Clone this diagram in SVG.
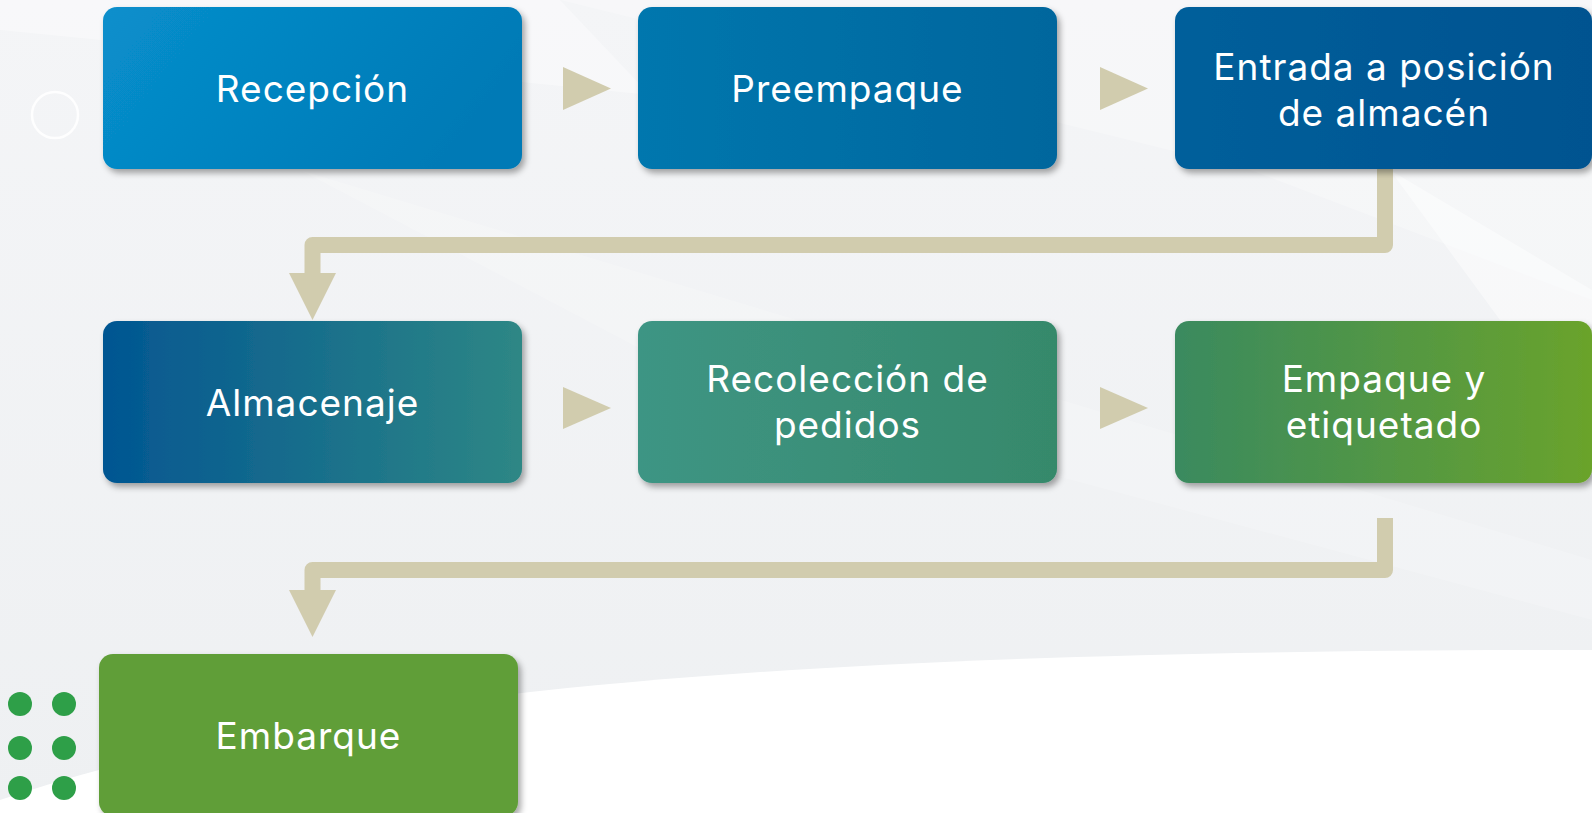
<svg xmlns="http://www.w3.org/2000/svg" width="1592" height="813" viewBox="0 0 1592 813">
  <defs>
    <style>
      .lbl { font-family: Inter, "Open Sans", "DejaVu Sans", sans-serif; font-size: 37px; font-weight: 400; fill: #ffffff; text-anchor: middle; letter-spacing: 1px; }
      .conn { fill: none; stroke: #d1ccae; stroke-width: 16; stroke-linejoin: round; }
      .head { fill: #d1ccae; }
      .dot { fill: #2e9f48; }
    </style>
    <filter id="shadow" x="-10%" y="-10%" width="125%" height="130%">
      <feDropShadow dx="3" dy="4" stdDeviation="3" flood-color="#000000" flood-opacity="0.35"/>
    </filter>
    <linearGradient id="g1" x1="0" y1="0" x2="1" y2="0.3">
      <stop offset="0" stop-color="#088fcc"/>
      <stop offset="1" stop-color="#007ab6"/>
    </linearGradient>
    <linearGradient id="g2" x1="0" y1="0" x2="1" y2="0">
      <stop offset="0" stop-color="#0077ae"/>
      <stop offset="1" stop-color="#00669d"/>
    </linearGradient>
    <linearGradient id="g3" x1="0" y1="0" x2="1" y2="0">
      <stop offset="0" stop-color="#015f9b"/>
      <stop offset="1" stop-color="#005390"/>
    </linearGradient>
    <linearGradient id="g4" x1="0" y1="0" x2="1" y2="0">
      <stop offset="0" stop-color="#025692"/>
      <stop offset="1" stop-color="#2e8785"/>
    </linearGradient>
    <linearGradient id="g5" x1="0" y1="0" x2="1" y2="0">
      <stop offset="0" stop-color="#3e9584"/>
      <stop offset="1" stop-color="#36896b"/>
    </linearGradient>
    <linearGradient id="g6" x1="0" y1="0" x2="1" y2="0">
      <stop offset="0" stop-color="#3a8a5f"/>
      <stop offset="1" stop-color="#6aa32b"/>
    </linearGradient>
    <linearGradient id="bg" x1="0" y1="0" x2="0" y2="1">
      <stop offset="0" stop-color="#f4f5f7"/>
      <stop offset="1" stop-color="#eef0f2"/>
    </linearGradient>
  </defs>

  <g id="background">
    <rect x="0" y="0" width="1592" height="813" fill="url(#bg)"/>
    <polygon points="0,0 560,0 650,95 0,30" fill="#ffffff" opacity="0.35"/>
    <polygon points="560,0 1592,0 1592,300 1250,170" fill="#ffffff" opacity="0.25"/>
    <polygon points="1390,170 1592,290 1592,330 1500,320" fill="#ffffff" opacity="0.45"/>
    <polygon points="300,170 1592,560 1592,620 700,380" fill="#ffffff" opacity="0.18"/>
    <path d="M0,800 C300,700 700,650 1592,650 L1592,813 L0,813 Z" fill="#ffffff"/>
    <circle cx="55" cy="115" r="23" fill="none" stroke="#ffffff" stroke-width="2.5" opacity="0.9"/>
    <g id="dots">
      <circle class="dot" cx="20" cy="704" r="12"/>
      <circle class="dot" cx="64" cy="704" r="12"/>
      <circle class="dot" cx="20" cy="748" r="12"/>
      <circle class="dot" cx="64" cy="748" r="12"/>
      <circle class="dot" cx="20" cy="788" r="12"/>
      <circle class="dot" cx="64" cy="788" r="12"/>
    </g>
  </g>

  <g id="connectors">
    <polygon class="head" points="563,67 611,88.5 563,110"/>
    <polygon class="head" points="1100,67 1148,88.5 1100,110"/>
    <path class="conn" d="M1385,165 L1385,245 L312.5,245 L312.5,275"/>
    <polygon class="head" points="289,273 336,273 312.5,320"/>
    <polygon class="head" points="563,387 611,408 563,429"/>
    <polygon class="head" points="1100,387 1148,408 1100,429"/>
    <path class="conn" d="M1385,518 L1385,570 L312.5,570 L312.5,592"/>
    <polygon class="head" points="289,590 336,590 312.5,637"/>
  </g>

  <g id="n1">
    <rect x="103" y="7" width="419" height="162" rx="14" fill="url(#g1)" filter="url(#shadow)"/>
    <text class="lbl" x="312.5" y="102">Recepción</text>
  </g>
  <g id="n2">
    <rect x="638" y="7" width="419" height="162" rx="14" fill="url(#g2)" filter="url(#shadow)"/>
    <text class="lbl" x="847.5" y="102">Preempaque</text>
  </g>
  <g id="n3">
    <rect x="1175" y="7" width="417" height="162" rx="14" fill="url(#g3)" filter="url(#shadow)"/>
    <text class="lbl" x="1384" y="80">Entrada a posición</text>
    <text class="lbl" x="1384" y="126">de almacén</text>
  </g>
  <g id="n4">
    <rect x="103" y="321" width="419" height="162" rx="14" fill="url(#g4)" filter="url(#shadow)"/>
    <text class="lbl" x="312.5" y="416">Almacenaje</text>
  </g>
  <g id="n5">
    <rect x="638" y="321" width="419" height="162" rx="14" fill="url(#g5)" filter="url(#shadow)"/>
    <text class="lbl" x="847.5" y="392">Recolección de</text>
    <text class="lbl" x="847.5" y="438">pedidos</text>
  </g>
  <g id="n6">
    <rect x="1175" y="321" width="417" height="162" rx="14" fill="url(#g6)" filter="url(#shadow)"/>
    <text class="lbl" x="1384" y="392">Empaque y</text>
    <text class="lbl" x="1384" y="438">etiquetado</text>
  </g>
  <g id="n7">
    <rect x="99" y="654" width="419" height="162" rx="14" fill="#609e39" filter="url(#shadow)"/>
    <text class="lbl" x="308.5" y="749">Embarque</text>
  </g>
</svg>
